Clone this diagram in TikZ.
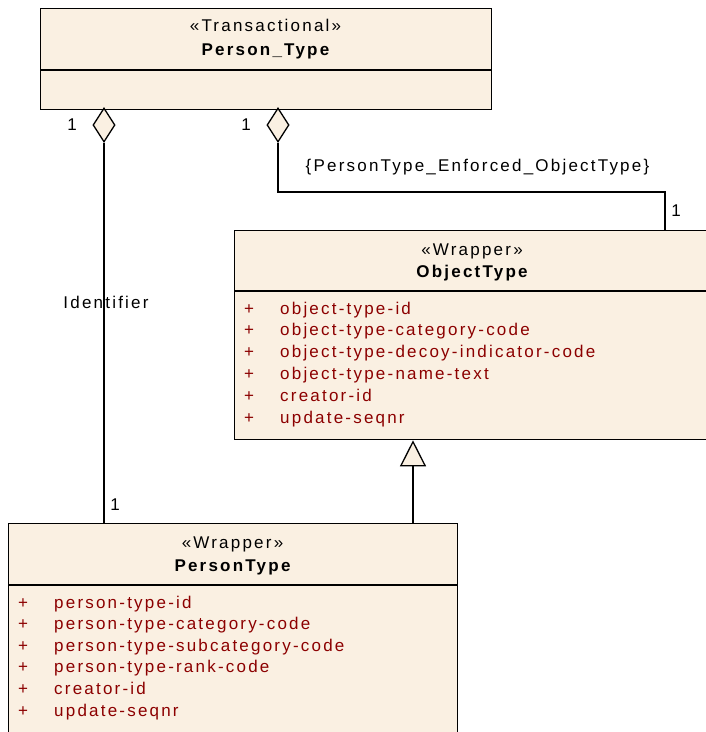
\documentclass[tikz,border=0pt]{standalone}
\usepackage{fontspec}
\setmainfont{Liberation Sans}[LetterSpace=13]
\usetikzlibrary{shapes.geometric,arrows.meta}
\definecolor{umlfill}{RGB}{250,240,226}
\definecolor{attrc}{RGB}{140,0,0}
\begin{document}
\begin{tikzpicture}[x=1pt,y=-1pt,
  cls/.style={draw=black,line width=1.3pt,fill=umlfill,rectangle,inner sep=0pt,anchor=north west},
  txt/.style={font=\fontsize{17}{20}\selectfont,inner sep=0pt,anchor=base},
  ttl/.style={txt,font=\fontsize{17}{20}\selectfont\bfseries},
  attr/.style={txt,anchor=base west,text=attrc},
  conn/.style={draw=black,line width=1.3pt},
  agg/.style={diamond,draw=black,fill=umlfill,line width=1.3pt,inner sep=0pt,minimum width=22pt,minimum height=34pt}
]
\useasboundingbox (0,0) rectangle (706,732);
\clip (0,0) rectangle (706,732);

% Person_Type
\node[cls,minimum width=451pt,minimum height=101pt] (ptt) at (40,8) {};
\draw[conn] (ptt.west |- 0,70) -- (ptt.east |- 0,70);
\node[txt] (ptts) at (265.5,31) {«Transactional»};
\node[ttl] (pttn) at (265.5,55) {Person\_Type};

% ObjectType
\node[cls,minimum width=476pt,minimum height=209pt] (ot) at (234,230) {};
\draw[conn] (ot.west |- 0,291) -- (ot.east |- 0,291);
\node[txt] (ots) at (472,255) {«Wrapper»};
\node[ttl] (otn) at (472,277) {ObjectType};
\foreach \t [count=\i] in {object-type-id,object-type-category-code,object-type-decoy-indicator-code,object-type-name-text,creator-id,update-seqnr}{
  \node[attr] (otp\i) at (244,{314+21.8*(\i-1)}) {+};
  \node[attr] (ota\i) at (280,{314+21.8*(\i-1)}) {\t};
}

% PersonType
\node[cls,minimum width=449pt,minimum height=240pt] (ptp) at (8,523) {};
\draw[conn] (ptp.west |- 0,585) -- (ptp.east |- 0,585);
\node[txt] (ptps) at (232.5,548) {«Wrapper»};
\node[ttl] (ptpn) at (232.5,571) {PersonType};
\foreach \t [count=\i] in {person-type-id,person-type-category-code,person-type-subcategory-code,person-type-rank-code,creator-id,update-seqnr}{
  \node[attr] (ptpp\i) at (18,{608+21.6*(\i-1)}) {+};
  \node[attr] (ptpa\i) at (54,{608+21.6*(\i-1)}) {\t};
}

% Aggregation "Identifier"
\node[agg] (d1) at (104,125) {};
\draw[conn] (d1.south) -- (d1.south |- ptp.north);
\node[txt] (m1) at (72,130) {1};
\node[txt] (m2) at (115,510) {1};
\node[txt] (idl) at (106,308) {Identifier};

% Aggregation to ObjectType
\node[agg] (d2) at (278,125) {};
\coordinate (bend) at (665,192);
\draw[conn] (d2.south) |- (bend) -- (bend |- ot.north);
\node[txt] (m3) at (246,130) {1};
\node[txt] (m4) at (676,216) {1};
\node[txt] (cons) at (477.5,171) {\{PersonType\_Enforced\_ObjectType\}};

% Generalization
\coordinate (gx) at (413,0);
\draw[conn,-{Triangle[length=26pt,width=26pt,fill=umlfill]}] (gx |- ptp.north) -- (gx |- ot.south);
\end{tikzpicture}
\end{document}
